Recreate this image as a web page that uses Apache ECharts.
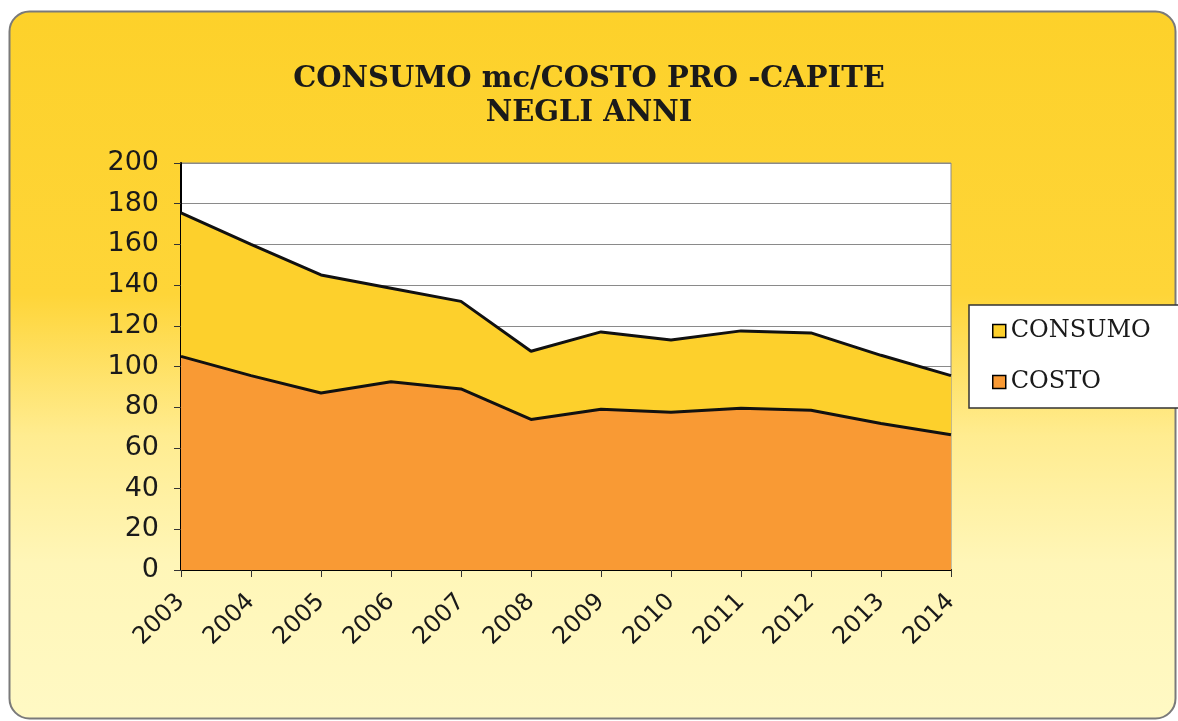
<!DOCTYPE html>
<html>
<head>
<meta charset="utf-8">
<script src="https://cdn.jsdelivr.net/npm/echarts@6/dist/echarts.min.js"></script>
<style>
html,body{margin:0;padding:0;background:#fff;}
#c{width:1178px;height:721px;}
</style>
</head>
<body>
<div id="c"></div>
<script>
const years = ['2003','2004','2005','2006','2007','2008','2009','2010','2011','2012','2013','2014'];
const consumo = [175.5, 160, 145, 138.5, 132, 107.5, 117, 113, 117.5, 116.5, 105.5, 95.5];
const costo = [105, 95.5, 87, 92.5, 89, 74, 79, 77.5, 79.5, 78.5, 72, 66.5];
const yTicks = {min: 0, max: 200, interval: 20};

const chart = echarts.init(document.getElementById('c'));
chart.setOption({
  animation: false,
  backgroundColor: '#ffffff',
  graphic: [{
    type: 'rect',
    z: -10,
    silent: true,
    shape: {x: 9.5, y: 11.5, width: 1166, height: 707, r: 20},
    style: {
      fill: new echarts.graphic.LinearGradient(0, 0, 0, 1, [
        {offset: 0, color: '#FDD12A'},
        {offset: 0.4, color: '#FED538'},
        {offset: 0.6, color: '#FFEC90'},
        {offset: 0.78, color: '#FFF6B8'},
        {offset: 1, color: '#FFF9C4'}
      ]),
      stroke: '#7a7a7a',
      lineWidth: 2
    }
  }],
  title: {
    text: 'CONSUMO mc/COSTO PRO -CAPITE\nNEGLI ANNI',
    left: 584,
    textAlign: 'center',
    top: 57,
    textStyle: {
      fontFamily: 'DejaVu Serif',
      fontWeight: 'bold',
      fontSize: 29,
      lineHeight: 34,
      color: '#1a1a1a'
    }
  },
  legend: {
    orient: 'vertical',
    left: 969,
    top: 305,
    backgroundColor: '#ffffff',
    borderColor: '#333333',
    borderWidth: 1.5,
    padding: [14, 70, 14, 23],
    itemGap: 27,
    itemWidth: 13,
    itemHeight: 13,
    icon: 'rect',
    textStyle: {fontFamily: 'DejaVu Serif', fontSize: 24, color: '#1a1a1a'},
    data: [
      {name: 'CONSUMO', itemStyle: {color: '#FDD02C', borderColor: '#000', borderWidth: 1.5}},
      {name: 'COSTO', itemStyle: {color: '#F99A34', borderColor: '#000', borderWidth: 1.5}}
    ]
  },
  grid: {
    left: 181, right: 227, top: 163, bottom: 151,
    show: true,
    backgroundColor: '#ffffff',
    borderColor: '#8a8a8a',
    borderWidth: 1
  },
  xAxis: {
    type: 'category',
    data: years,
    boundaryGap: false,
    axisLine: {lineStyle: {color: '#000', width: 2}},
    axisTick: {show: true, length: 7, lineStyle: {color: '#333', width: 1}},
    axisLabel: {
      rotate: 45,
      margin: 28,
      fontFamily: 'DejaVu Sans',
      fontSize: 24,
      color: '#1a1a1a'
    },
    splitLine: {show: false}
  },
  yAxis: {
    type: 'value',
    min: yTicks.min, max: yTicks.max, interval: yTicks.interval,
    axisLine: {show: true, lineStyle: {color: '#000', width: 2}},
    axisTick: {show: true, length: 7, lineStyle: {color: '#333', width: 1}},
    axisLabel: {margin: 22, fontFamily: 'DejaVu Sans', fontSize: 27, color: '#1a1a1a'},
    splitLine: {show: true, lineStyle: {color: '#8a8a8a', width: 1}}
  },
  series: [
    {
      name: 'CONSUMO',
      type: 'line',
      data: consumo,
      symbol: 'none',
      z: 2,
      lineStyle: {color: '#111', width: 3},
      itemStyle: {color: '#FDD02C'},
      areaStyle: {color: '#FDD02C', opacity: 1}
    },
    {
      name: 'COSTO',
      type: 'line',
      data: costo,
      symbol: 'none',
      z: 3,
      lineStyle: {color: '#111', width: 3},
      itemStyle: {color: '#F99A34'},
      areaStyle: {color: '#F99A34', opacity: 1}
    }
  ]
});
</script>
</body>
</html>
